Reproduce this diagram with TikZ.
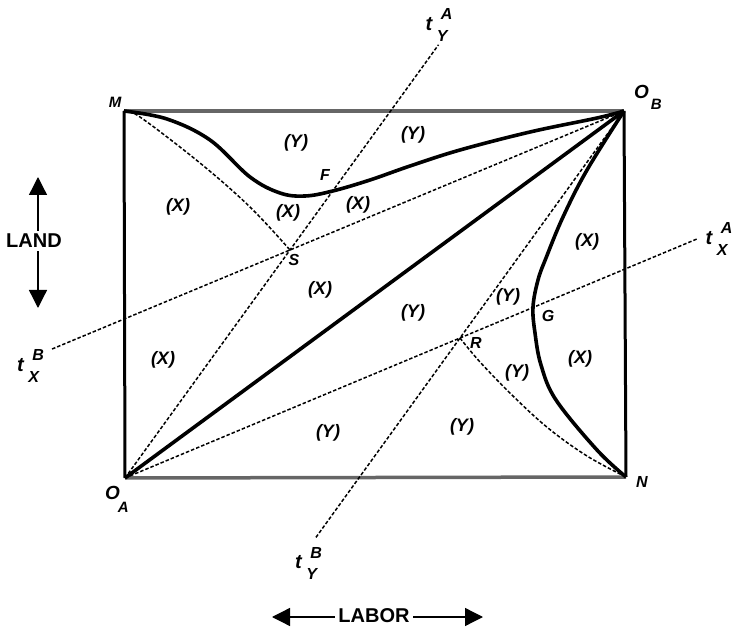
\documentclass[tikz,border=0pt]{standalone}
\usepackage{fontspec}
\setmainfont{Liberation Sans}
\usetikzlibrary{arrows.meta,calc}

% t with a stacked super- and subscript
\newcommand{\tlab}[2]{\textit{t}\kern4pt$\vcenter{\offinterlineskip
  \hbox{\kern4pt\fontsize{16}{16}\selectfont\bfseries\itshape #2}\kern10pt
  \hbox{\fontsize{16}{16}\selectfont\bfseries\itshape #1}}$}

\begin{document}
\begin{tikzpicture}[x=1pt,y=-1pt,
    edgeh/.style={draw=black!60,line width=3.5pt},
    edgev/.style={line width=3pt},
    bound/.style={line width=3.6pt,line join=round},
    tline/.style={line width=1.5pt,dash pattern=on 3.5pt off 2pt},
    region/.style={inner sep=0pt,font=\fontsize{18}{18}\selectfont\bfseries\itshape},
    ptlabel/.style={inner sep=0pt,font=\fontsize{16}{16}\selectfont\bfseries\itshape},
    tlabel/.style={inner sep=0pt,font=\fontsize{20}{20}\selectfont\bfseries},
    dirarrow/.style={line width=1.3pt,-{Triangle[width=18pt,length=18pt]}}]
  \useasboundingbox (0,0) rectangle (732,631);
  \begin{scope}
    \coordinate (M) at (124,111);
    \coordinate (OB) at (624,111);
    \coordinate (OA) at (125,478);
    \coordinate (N) at (626,477);
    \coordinate (S) at (290,250);
    \coordinate (R) at (460,338);
    \coordinate (F) at (332.7,191);
    \coordinate (G) at (533,307);
    \coordinate (tYAend) at ($(OA)!1.9!(S)$);
    \coordinate (tXBend) at ($(OB)!1.714!(S)$);
    \coordinate (tXAend) at ($(OA)!1.71!(R)$);
    \coordinate (tYBend) at ($(OB)!1.88!(R)$);

    % box
    \draw[edgeh] (M) -- (OB);
    \draw[edgeh] (OA) -- (N);
    \draw[edgev] (M) -- (OA);
    \draw[edgev] (OB) -- (N);

    % trade lines
    \draw[tline] (OA) -- (tYAend);
    \draw[tline] (OB) -- (tXBend);
    \draw[tline] (OA) -- (tXAend);
    \draw[tline] (OB) -- (tYBend);
    \draw[tline] plot[smooth,tension=0.6] coordinates {(M) (140,117) (200,163) (250,207) (S)};
    \draw[tline] plot[smooth,tension=0.6] coordinates {(R) (480,362) (513,396) (548,428) (587,456) (N)};

    % contract curves
    \draw[bound] (OA) -- (OB);
    \draw[bound] plot[smooth,tension=0.6] coordinates {(M) (167,119) (210,140) (250,177) (280,193) (305,196) (F) (370,180) (410,166) (460,150) (530,132) (597,118) (OB)};
    \draw[bound] plot[smooth,tension=0.6] coordinates {(OB) (587,170) (563,217) (546,258) (538,280) (G) (535,333) (541,365) (556,400) (597,450) (N)};

    % corner and point labels
    \node[inner sep=0pt,font=\fontsize{15}{15}\selectfont\bfseries\itshape] (lblM) at (115,102) {M};
    \node[inner sep=0pt,anchor=base west,font=\fontsize{19}{19}\selectfont\bfseries\itshape] (lblOB) at (634,99) {O\kern2pt\raisebox{-11pt}{\fontsize{15}{15}\selectfont B}};
    \node[inner sep=0pt,anchor=base west,font=\fontsize{19}{19}\selectfont\bfseries\itshape] (lblOA) at (105,500) {O\kern-2pt\raisebox{-12.5pt}{\fontsize{15}{15}\selectfont A}};
    \node[ptlabel] (lblN) at (642,482) {N};
    \node[ptlabel] (lblF) at (325,175) {F};
    \node[ptlabel] (lblS) at (294,260) {S};
    \node[ptlabel] (lblR) at (476,343) {R};
    \node[ptlabel] (lblG) at (548,316) {G};

    \node[tlabel] (tYA) at (439,25) {\tlab{Y}{A}};
    \node[tlabel] (tXA) at (719,239) {\tlab{X}{A}};
    \node[tlabel] (tXB) at (30.5,366) {\tlab{X}{B}};
    \node[tlabel] (tYB) at (308.5,563.5) {\tlab{Y}{B}};

    % regions
    \node[region] (y1) at (296,143) {(Y)};
    \node[region] (y2) at (413,135) {(Y)};
    \node[region] (x1) at (178,207) {(X)};
    \node[region] (x2) at (288,213) {(X)};
    \node[region] (x3) at (358,205) {(X)};
    \node[region] (x4) at (320,290) {(X)};
    \node[region] (y3) at (413,313) {(Y)};
    \node[region] (y4) at (508,297) {(Y)};
    \node[region] (x5) at (587,242) {(X)};
    \node[region] (x6) at (580,359) {(X)};
    \node[region] (x7) at (163,360) {(X)};
    \node[region] (y5) at (517,373) {(Y)};
    \node[region] (y6) at (328,433) {(Y)};
    \node[region] (y7) at (462,427) {(Y)};

    % axes
    \node[font=\fontsize{20}{20}\selectfont\bfseries] (land) at (34,241) {LAND};
    \coordinate (landtop) at (38,177);
    \coordinate (landbot) at (38,308);
    \draw[dirarrow] (land.north -| landtop) -- (landtop);
    \draw[dirarrow] (land.south -| landbot) -- (landbot);
    \node[font=\fontsize{20}{20}\selectfont\bfseries] (labor) at (374,616) {LABOR};
    \coordinate (laborleft) at (272,617);
    \coordinate (laborright) at (483,617);
    \draw[dirarrow] (labor.west |- laborleft) -- (laborleft);
    \draw[dirarrow] (labor.east |- laborright) -- (laborright);
  \end{scope}
\end{tikzpicture}
\end{document}
